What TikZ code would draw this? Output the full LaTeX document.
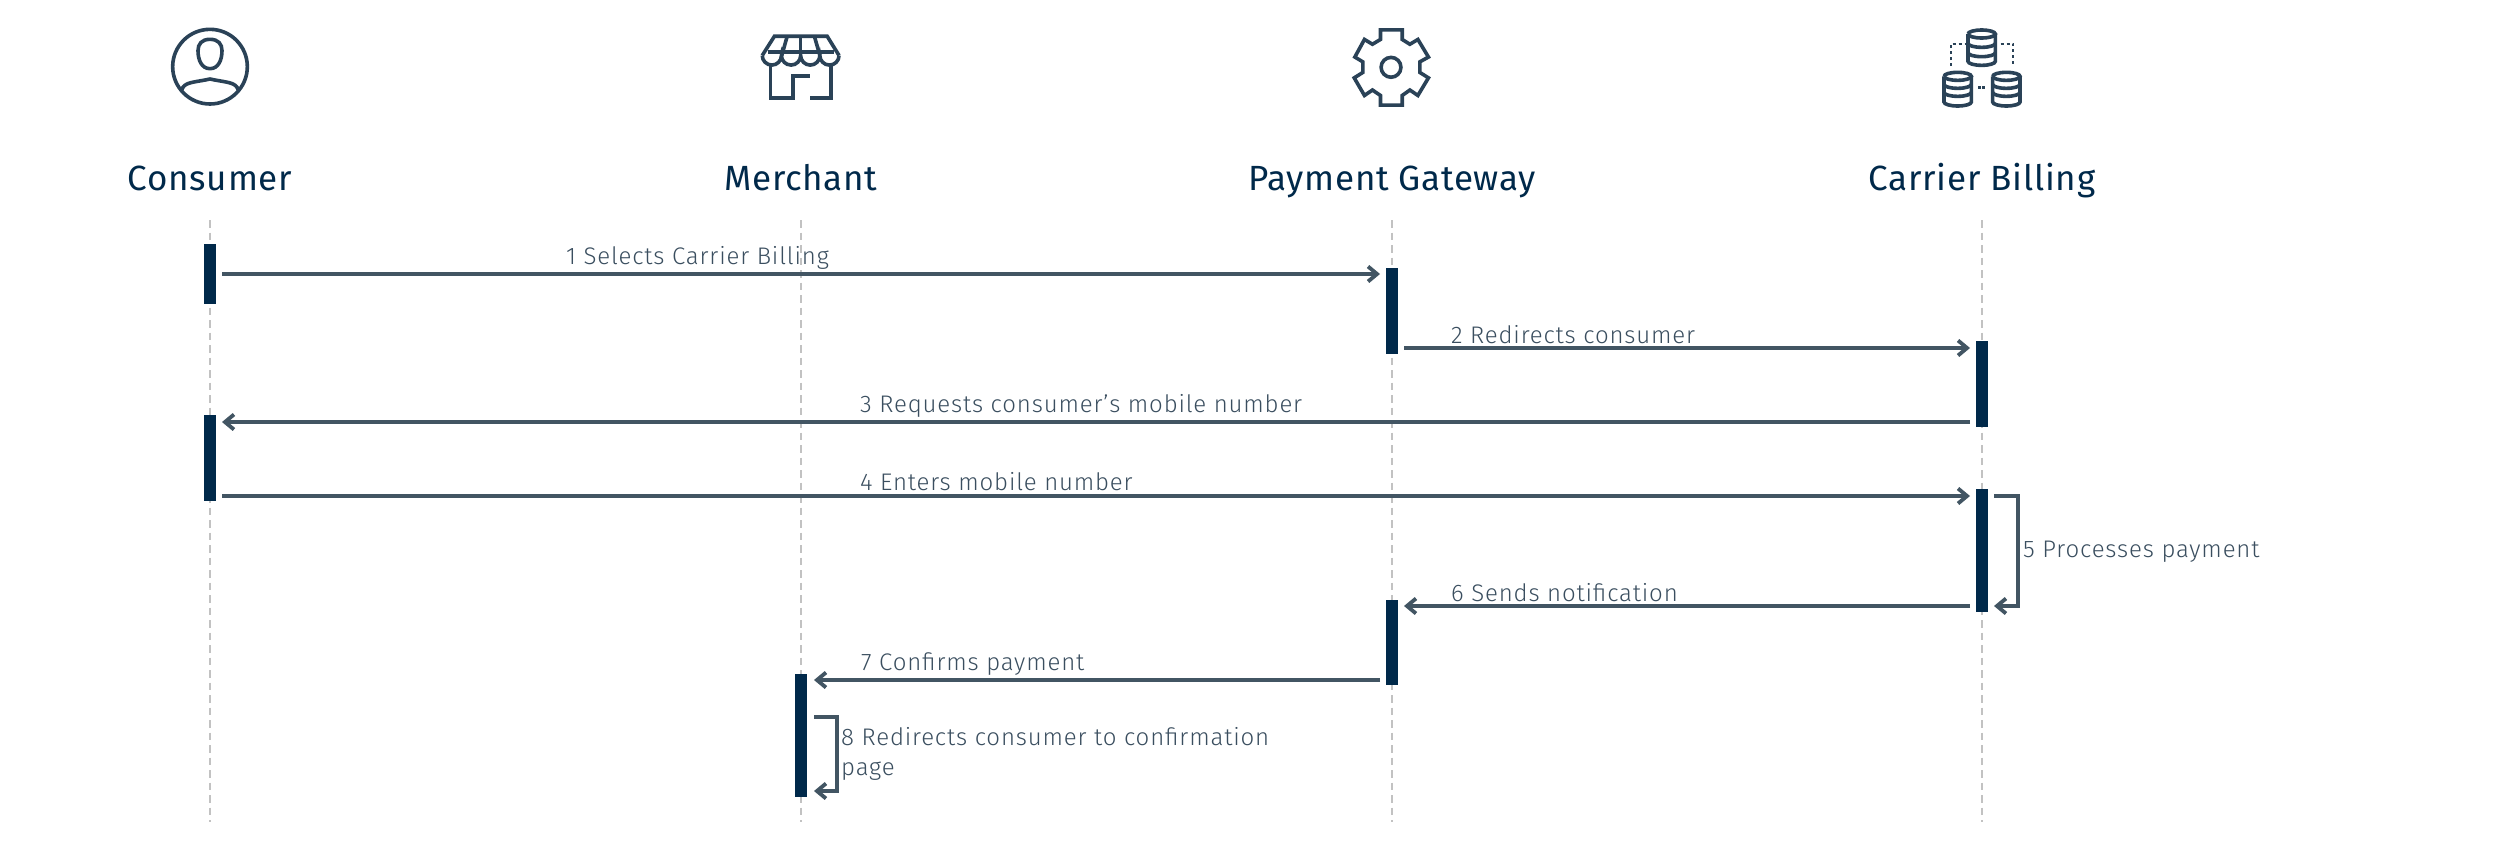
\documentclass[tikz,border=0pt]{standalone}
\usepackage{fontspec}
\setmainfont{Fira Sans Light}[LetterSpace=3.5]
\newfontfamily\ttlfont{Fira Sans}[LetterSpace=2]
\usetikzlibrary{arrows.meta}
\definecolor{navy}{HTML}{00294A}
\definecolor{slate}{HTML}{425563}
\definecolor{iconc}{HTML}{2A4257}
\definecolor{lifec}{HTML}{C2C2C2}
\definecolor{labc}{HTML}{3A4E5F}
\tikzset{
  x=1pt,y=-1pt,
  lifeline/.style={draw=lifec,line width=1.2pt,dash pattern=on 7.5pt off 5pt},
  actbar/.style={fill=navy,draw=none,inner sep=0pt,minimum width=12.5pt},
  msg/.style={draw=slate,line width=4.3pt,-{Straight Barb[length=9pt,width=15pt,line width=3.8pt]}},
  ttl/.style={anchor=base,text=navy,font=\ttlfont\fontsize{35}{40}\selectfont,inner sep=0pt},
  lab/.style={anchor=base west,text=labc,font=\fontsize{24}{30}\selectfont,inner sep=0pt,align=left},
  icon/.style={draw=iconc,line width=3.6pt,line join=miter,fill=none},
  zoomed/.style={x=0.33333pt,y=-0.33333pt},
  zoomedin/.style={x=0.32pt,y=-0.32pt},
}
\newcommand{\actbox}[4]{\node[actbar,minimum height=#4-#3,anchor=north] (#1) at (#2,#3) {};}
\newcommand{\drum}[5]{% cx, top, halfwidth, bottom, band pitch
  \draw[icon] (#1-#3,#2+12) arc[start angle=180,end angle=-180,x radius=#3,y radius=12];
  \draw[icon] (#1-#3,#2+12) -- (#1-#3,#4-12) arc[start angle=180,end angle=0,x radius=#3,y radius=12] -- (#1+#3,#2+12);
  \draw[icon] (#1-#3,#2+12+#5) arc[start angle=180,end angle=0,x radius=#3,y radius=12];
  \draw[icon] (#1-#3,#2+12+#5+#5) arc[start angle=180,end angle=0,x radius=#3,y radius=12];
}
\begin{document}
\begin{tikzpicture}
\useasboundingbox[fill=white] (0,0) rectangle (2520,846);
% lifelines
\coordinate (c0) at (210,220); \coordinate (c1) at (210,822);
\coordinate (m0) at (801,220); \coordinate (m1) at (801,822);
\coordinate (g0) at (1392,220); \coordinate (g1) at (1392,822);
\coordinate (b0) at (1982,220); \coordinate (b1) at (1982,822);
\draw[lifeline] (c0)--(c1);
\draw[lifeline] (m0)--(m1);
\draw[lifeline] (g0)--(g1);
\draw[lifeline] (b0)--(b1);
% titles
\node[ttl] (tc) at (210,190) {Consumer};
\node[ttl] (tm) at (801,190) {Merchant};
\node[ttl] (tg) at (1392,190) {Payment Gateway};
\node[ttl] (tb) at (1982,190) {Carrier Billing};
% activation bars
\actbox{ac1}{210}{244}{304}
\actbox{ag1}{1392}{268}{354}
\actbox{ab1}{1982}{341}{427}
\actbox{ac2}{210}{415}{501}
\actbox{ab2}{1982}{489}{612}
\actbox{ag2}{1392}{600}{685}
\actbox{am1}{801}{674}{797}
% message ends
\coordinate (p1a) at (222,274); \coordinate (p1b) at (1380,274);
\coordinate (p2a) at (1404,348); \coordinate (p2b) at (1970,348);
\coordinate (p3a) at (1970,422); \coordinate (p3b) at (222,422);
\coordinate (p4a) at (222,496); \coordinate (p4b) at (1970,496);
\coordinate (p5a) at (1994,496); \coordinate (p5c) at (2018,606); \coordinate (p5b) at (1994,606);
\coordinate (p6a) at (1970,606); \coordinate (p6b) at (1404,606);
\coordinate (p7a) at (1380,680); \coordinate (p7b) at (814,680);
\coordinate (p8a) at (814,717); \coordinate (p8c) at (837,791); \coordinate (p8b) at (814,791);
\draw[msg] (p1a)--(p1b);
\draw[msg] (p2a)--(p2b);
\draw[msg] (p3a)--(p3b);
\draw[msg] (p4a)--(p4b);
\draw[msg] (p5a)-|(p5c)--(p5b);
\draw[msg] (p6a)--(p6b);
\draw[msg] (p7a)--(p7b);
\draw[msg] (p8a)-|(p8c)--(p8b);
% labels
\node[lab] (l1) at (566,264) {1 Selects Carrier Billing};
\node[lab] (l2) at (1451,343) {2 Redirects consumer};
\node[lab] (l3) at (860,412) {3 Requests consumer's mobile number};
\node[lab] (l4) at (860,490) {4 Enters mobile number};
\node[lab] (l5) at (2023,557) {5 Processes payment};
\node[lab] (l6) at (1451,601) {6 Sends notification};
\node[lab] (l7) at (861,670) {7 Confirms payment};
\node[lab] (l8) at (841,775) {8 Redirects consumer to confirmation\\page};
% consumer icon
\begin{scope}[shift={(150,10)},zoomed]
  \draw[icon] (180,170) circle[radius=112];
  \draw[icon] (180,88) .. controls (155,88) and (144,102) .. (144,122)
     .. controls (144,150) and (155,176) .. (180,176)
     .. controls (205,176) and (216,150) .. (216,122)
     .. controls (216,102) and (205,88) .. (180,88) -- cycle;
  \draw[icon,line cap=round] (95,240) .. controls (103,215) and (130,218) .. (180,207)
     .. controls (230,218) and (257,215) .. (265,240);
\end{scope}
% merchant icon
\begin{scope}[shift={(742.4,12.27)},zoomedin]
  \draw[icon] (62,135) -- (100,75) -- (265,75) -- (302,135);
  \draw[icon] (80,125) -- (285,125);
  \draw[icon] (140,75) -- (123,135);
  \draw[icon] (182,75) -- (182,135);
  \draw[icon] (225,75) -- (242,135);
  \draw[icon] (62,135) arc[start angle=180,end angle=0,radius=30]
              arc[start angle=180,end angle=0,radius=30]
              arc[start angle=180,end angle=0,radius=30]
              arc[start angle=180,end angle=0,radius=30];
  \draw[icon] (88,165) -- (88,268) -- (158,268) -- (158,200) -- (210,200);
  \draw[icon] (277,165) -- (277,268) -- (210,268);
\end{scope}
% gateway icon
\begin{scope}[shift={(1342.04,12.26)},zoomedin]
  \draw[icon] (120,85) -- (120,55) -- (188,55) -- (188,85) -- (212,100) -- (237,85) -- (270,140) -- (243,155) -- (243,188) -- (270,205) -- (237,260) -- (212,243) -- (188,260) -- (188,290) -- (120,290) -- (120,260) -- (95,243) -- (70,260) -- (38,205) -- (65,188) -- (65,155) -- (40,140) -- (70,85) -- (95,100) -- cycle;
  \draw[icon] (153,172) circle[radius=31];
\end{scope}
% carrier icon
\begin{scope}[shift={(1930,10)},zoomed]
  \drum{155}{60}{41}{166}{28}
  \drum{83}{187}{41}{288}{24}
  \drum{229}{187}{41}{288}{24}
  \draw[icon,line width=2.2pt,dash pattern=on 3pt off 3pt] (62,168) -- (62,102) -- (105,102);
  \draw[icon,line width=2.2pt,dash pattern=on 3pt off 3pt] (212,102) -- (250,102) -- (250,170);
  \draw[icon,line width=3pt,dash pattern=on 2.5pt off 1.5pt] (145,232) -- (168,232);
\end{scope}
\end{tikzpicture}
\end{document}
